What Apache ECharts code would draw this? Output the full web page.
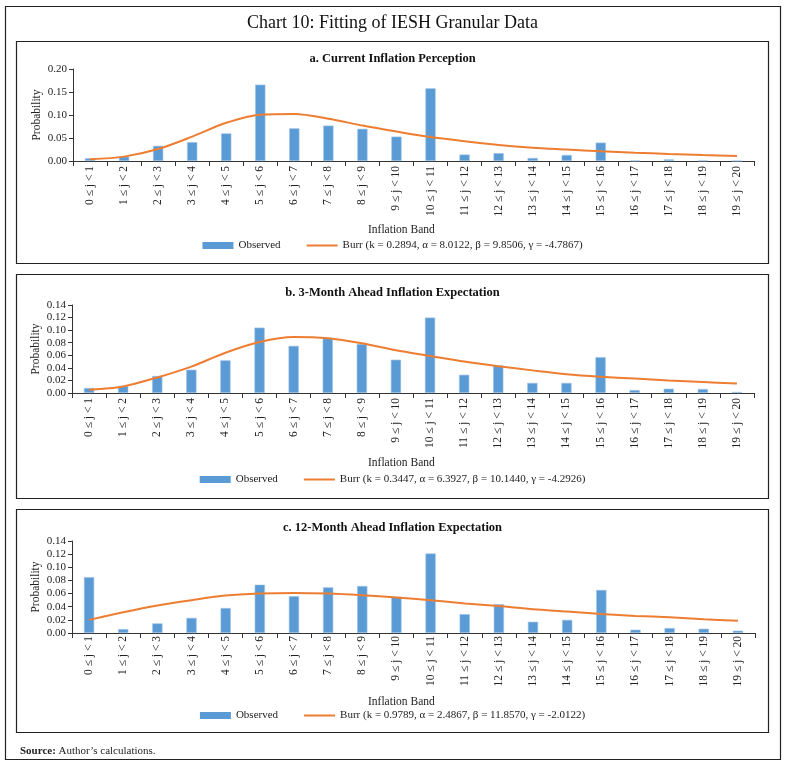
<!DOCTYPE html>
<html>
<head>
<meta charset="utf-8">
<script src="https://cdn.jsdelivr.net/npm/echarts@6/dist/echarts.min.js"></script>
<style>
html,body{margin:0;padding:0;background:#fff;}
#c{width:785px;height:767px;}
</style>
</head>
<body>
<div id="c"></div>
<script>
var categories = ['0 ≤ j < 1','1 ≤ j < 2','2 ≤ j < 3','3 ≤ j < 4','4 ≤ j < 5','5 ≤ j < 6','6 ≤ j < 7','7 ≤ j < 8','8 ≤ j < 9','9 ≤ j < 10','10 ≤ j < 11','11 ≤ j < 12','12 ≤ j < 13','13 ≤ j < 14','14 ≤ j < 15','15 ≤ j < 16','16 ≤ j < 17','17 ≤ j < 18','18 ≤ j < 19','19 ≤ j < 20'];

var observedA = [0.006,0.0095,0.033,0.041,0.060,0.166,0.071,0.077,0.070,0.053,0.158,0.014,0.017,0.0066,0.013,0.040,0.0005,0.0035,0.001,0.0003];
var burrA = [0.0036,0.0095,0.026,0.053,0.083,0.1007,0.102,0.092,0.077,0.064,0.052,0.043,0.035,0.029,0.025,0.021,0.018,0.0153,0.013,0.011];

var observedB = [0.0079,0.011,0.027,0.037,0.052,0.104,0.075,0.088,0.078,0.053,0.120,0.029,0.044,0.016,0.016,0.057,0.0047,0.0068,0.0063,0.0016];
var burrB = [0.0053,0.0105,0.0247,0.042,0.064,0.081,0.089,0.087,0.079,0.068,0.059,0.050,0.0426,0.036,0.030,0.026,0.023,0.020,0.0174,0.015];

var observedC = [0.085,0.006,0.0146,0.023,0.038,0.0735,0.056,0.0695,0.0715,0.055,0.121,0.0287,0.0438,0.0171,0.020,0.0655,0.005,0.0075,0.0065,0.0035];
var burrC = [0.020,0.0317,0.042,0.050,0.057,0.060,0.061,0.060,0.0574,0.054,0.050,0.045,0.041,0.036,0.0327,0.029,0.026,0.024,0.021,0.0186];

var panelTitles = ['a. Current Inflation Perception','b. 3-Month Ahead Inflation Expectation','c. 12-Month Ahead Inflation Expectation'];
var burrNames = ['Burr (k = 0.2894, α = 8.0122, β = 9.8506, γ = -4.7867)','Burr (k = 0.3447, α = 6.3927, β = 10.1440, γ = -4.2926)','Burr (k = 0.9789, α = 2.4867, β = 11.8570, γ = -2.0122)'];
var yMax = [0.20,0.14,0.14];
var yStep = [0.05,0.02,0.02];

var FONT = '"Liberation Serif","DejaVu Serif",serif';
var TXT = '#222';
var BLUE = '#5B9BD5';
var ORANGE = '#ED7D31';

var observedAll = [observedA, observedB, observedC];
var burrAll = [burrA, burrB, burrC];

var grids = [
  {left:73, right:31, top:69, height:92},
  {left:72, right:31, top:305, height:88},
  {left:72, right:30, top:541, height:92}
];
var panelBoxes = [[16,41,752,222],[16,274,752,224],[16,509,752,223]];
var titleTops = [47,281,516];
var bandTops = [219,452,691];
var legendTops = [235,469,705];
var labelMargins = [5,5,3];

var option = {
  backgroundColor:'#fff',
  animation:false,
  textStyle:{fontFamily:FONT,color:TXT},
  title:[],
  legend:[],
  grid:[],
  xAxis:[],
  yAxis:[],
  series:[],
  graphic:[]
};

option.title.push({text:'Chart 10: Fitting of IESH Granular Data',left:'center',top:9,textStyle:{fontFamily:FONT,fontSize:18,fontWeight:'normal',color:'#111'}});
option.title.push({text:'{b|Source:}{n| Author\u2019s calculations.}',left:15,top:741,textStyle:{rich:{b:{fontFamily:FONT,fontSize:11,fontWeight:'bold',color:TXT},n:{fontFamily:FONT,fontSize:11,fontWeight:'normal',color:TXT}},fontFamily:FONT,fontSize:11,fontWeight:'normal',color:TXT}});

option.graphic.push({type:'rect',shape:{x:5.5,y:6.5,width:775,height:753},style:{fill:'none',stroke:'#222',lineWidth:1.2},silent:true});

for (var i=0;i<3;i++){
  var b = panelBoxes[i];
  option.graphic.push({type:'rect',shape:{x:b[0]+0.5,y:b[1]+0.5,width:b[2],height:b[3]},style:{fill:'none',stroke:'#222',lineWidth:1.2},silent:true});
  option.title.push({text:panelTitles[i],left:'center',top:titleTops[i],textStyle:{fontFamily:FONT,fontSize:12.5,fontWeight:'bold',color:'#111'}});
  option.title.push({text:'Inflation Band',left:363,top:bandTops[i],textStyle:{fontFamily:FONT,fontSize:11.5,fontWeight:'normal',color:TXT}});
  option.grid.push(grids[i]);
  option.xAxis.push({
    type:'category',gridIndex:i,data:categories,
    axisLine:{lineStyle:{color:'#333',width:1}},
    axisTick:{show:true,inside:false,length:5,lineStyle:{color:'#333'}},
    axisLabel:{rotate:90,fontFamily:FONT,fontSize:11.5,color:TXT,margin:labelMargins[i],interval:0}
  });
  option.yAxis.push({
    type:'value',gridIndex:i,min:0,max:yMax[i],interval:yStep[i],
    name:'Probability',nameLocation:'middle',nameGap:30,nameMoveOverlap:false,
    nameTextStyle:{fontFamily:FONT,fontSize:11.5,color:TXT},
    axisLine:{show:true,lineStyle:{color:'#333',width:1}},
    axisTick:{show:true,length:4,lineStyle:{color:'#333'}},
    splitLine:{show:false},
    axisLabel:{fontFamily:FONT,fontSize:11,color:TXT,margin:6,formatter:function(v){return v.toFixed(2);}}
  });
  option.series.push({
    name:'Observed',type:'bar',xAxisIndex:i,yAxisIndex:i,data:observedAll[i],
    barWidth:'30%',itemStyle:{color:BLUE,borderColor:'#9DC3E6',borderWidth:0.6}
  });
  option.series.push({
    name:burrNames[i],type:'line',xAxisIndex:i,yAxisIndex:i,data:burrAll[i],
    symbol:'none',smooth:0.3,lineStyle:{color:ORANGE,width:2},itemStyle:{color:ORANGE}
  });
  option.legend.push({
    data:[
      {name:'Observed',icon:'rect',itemStyle:{borderWidth:0}},
      {name:burrNames[i],icon:'path://M0,0L31,0L31,2L0,2Z',itemStyle:{color:ORANGE,borderWidth:0}}
    ],
    top:legendTops[i],left:'center',itemWidth:31,itemHeight:7,itemGap:26,
    selectedMode:false,
    textStyle:{fontFamily:FONT,fontSize:11,color:TXT}
  });
}

var chart = echarts.init(document.getElementById('c'),null,{renderer:'canvas'});
chart.setOption(option);
</script>
</body>
</html>
